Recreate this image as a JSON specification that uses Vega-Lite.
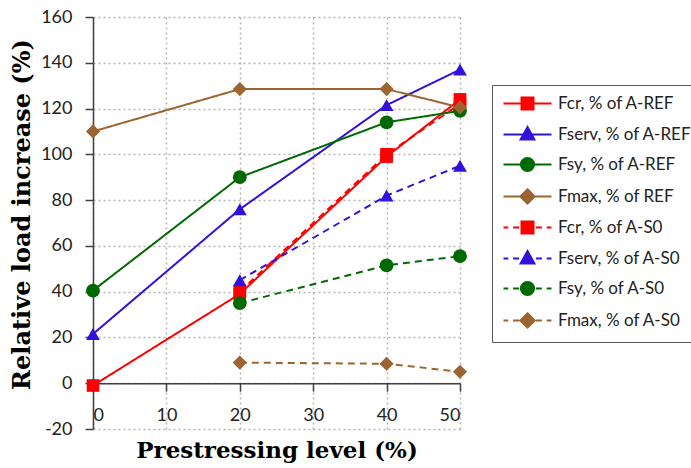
{
  "$schema": "https://vega.github.io/schema/vega-lite/v6.json",
  "autosize": "none",
  "width": 367,
  "height": 412,
  "padding": {"left": 93, "top": 17, "right": 231, "bottom": 39},
  "background": "white",
  "config": {
    "view": {"stroke": null},
    "axis": {
      "domainColor": "#404040",
      "domainWidth": 1.5,
      "tickColor": "#404040",
      "tickWidth": 1.5,
      "tickSize": 8,
      "gridColor": "#b4b4b4",
      "gridDash": [2, 3],
      "gridWidth": 1.5,
      "labelFont": "Lato",
      "labelFontSize": 18,
      "labelColor": "#222222",
      "labelExpr": "replace(datum.label, '\u2212', '-')",
      "titleFont": "DejaVu Serif",
      "titleFontWeight": "bold",
      "titleFontSize": 23,
      "titleColor": "#000000"
    },
    "legend": {
      "symbolSize": 144,
      "symbolStrokeWidth": 2,
      "symbolOpacity": 1,
      "labelFont": "Lato",
      "labelFontSize": 17,
      "labelColor": "#222222",
      "strokeColor": "#555555",
      "fillColor": "white",
      "padding": 10,
      "rowPadding": 9,
      "symbolOffset": 17,
      "labelOffset": 22
    }
  },
  "data": {
    "values": [
      {"x": 0, "y": -1, "s": "Fcr, % of A-REF"},
      {"x": 20, "y": 39, "s": "Fcr, % of A-REF"},
      {"x": 40, "y": 99, "s": "Fcr, % of A-REF"},
      {"x": 50, "y": 124, "s": "Fcr, % of A-REF"},
      {"x": 0, "y": 21.5, "s": "Fserv, % of A-REF"},
      {"x": 20, "y": 76, "s": "Fserv, % of A-REF"},
      {"x": 40, "y": 121.5, "s": "Fserv, % of A-REF"},
      {"x": 50, "y": 137, "s": "Fserv, % of A-REF"},
      {"x": 0, "y": 40.5, "s": "Fsy, % of A-REF"},
      {"x": 20, "y": 90, "s": "Fsy, % of A-REF"},
      {"x": 40, "y": 114, "s": "Fsy, % of A-REF"},
      {"x": 50, "y": 119, "s": "Fsy, % of A-REF"},
      {"x": 0, "y": 110, "s": "Fmax, % of REF"},
      {"x": 20, "y": 128.5, "s": "Fmax, % of REF"},
      {"x": 40, "y": 128.5, "s": "Fmax, % of REF"},
      {"x": 50, "y": 120.5, "s": "Fmax, % of REF"},
      {"x": 20, "y": 40, "s": "Fcr, % of A-S0"},
      {"x": 40, "y": 100, "s": "Fcr, % of A-S0"},
      {"x": 50, "y": 122, "s": "Fcr, % of A-S0"},
      {"x": 20, "y": 45, "s": "Fserv, % of A-S0"},
      {"x": 40, "y": 82, "s": "Fserv, % of A-S0"},
      {"x": 50, "y": 95, "s": "Fserv, % of A-S0"},
      {"x": 20, "y": 35, "s": "Fsy, % of A-S0"},
      {"x": 40, "y": 51.5, "s": "Fsy, % of A-S0"},
      {"x": 50, "y": 55.5, "s": "Fsy, % of A-S0"},
      {"x": 20, "y": 9, "s": "Fmax, % of A-S0"},
      {"x": 40, "y": 8.5, "s": "Fmax, % of A-S0"},
      {"x": 50, "y": 5, "s": "Fmax, % of A-S0"}
    ]
  },
  "encoding": {
    "x": {
      "field": "x", "type": "quantitative",
      "scale": {"domain": [0, 50], "nice": false, "zero": false},
      "axis": {
        "title": "Prestressing level (%)",
        "values": [0, 10, 20, 30, 40, 50],
        "offset": -45.8,
        "labelPadding": 15,
        "titlePadding": 15,
        "grid": true
      }
    },
    "y": {
      "field": "y", "type": "quantitative",
      "scale": {"domain": [-20, 160], "nice": false, "zero": false},
      "axis": {
        "title": "Relative load increase (%)",
        "values": [-20, 0, 20, 40, 60, 80, 100, 120, 140, 160],
        "labelPadding": 13,
        "titlePadding": 6,
        "titleFontSize": 24,
        "titleY": 197,
        "grid": true
      }
    }
  },
  "resolve": {"scale": {"color": "independent", "shape": "independent", "stroke": "independent", "strokeDash": "independent"}},
  "layer": [
    {
      "mark": {"type": "line", "strokeWidth": 2},
      "encoding": {
        "detail": {"field": "s"},
        "color": {
          "field": "s", "type": "nominal", "legend": null,
          "scale": {
            "domain": ["Fcr, % of A-REF", "Fserv, % of A-REF", "Fsy, % of A-REF", "Fmax, % of REF", "Fcr, % of A-S0", "Fserv, % of A-S0", "Fsy, % of A-S0", "Fmax, % of A-S0"],
            "range": ["#ff0000", "#3311dd", "#006a00", "#9c6430", "#ff0000", "#3311dd", "#006a00", "#9c6430"]
          }
        },
        "strokeDash": {
          "field": "s", "type": "nominal", "legend": null,
          "scale": {
            "domain": ["Fcr, % of A-REF", "Fserv, % of A-REF", "Fsy, % of A-REF", "Fmax, % of REF", "Fcr, % of A-S0", "Fserv, % of A-S0", "Fsy, % of A-S0", "Fmax, % of A-S0"],
            "range": [[1, 0], [1, 0], [1, 0], [1, 0], [7, 5], [7, 5], [7, 5], [7, 5]]
          }
        }
      }
    },
    {
      "transform": [{"filter": {"field": "s", "oneOf": ["Fcr, % of A-REF", "Fcr, % of A-S0"]}}],
      "mark": {"type": "point", "shape": "square", "filled": true, "opacity": 1, "size": 160},
      "encoding": {"color": {"field": "s", "type": "nominal", "legend": null,
        "scale": {"domain": ["Fcr, % of A-REF", "Fcr, % of A-S0"], "range": ["#ff0000", "#ff0000"]}}}
    },
    {
      "transform": [{"filter": {"field": "s", "oneOf": ["Fserv, % of A-REF", "Fserv, % of A-S0"]}}],
      "mark": {"type": "point", "shape": "triangle-up", "filled": true, "opacity": 1, "size": 190},
      "encoding": {"color": {"field": "s", "type": "nominal", "legend": null,
        "scale": {"domain": ["Fserv, % of A-REF", "Fserv, % of A-S0"], "range": ["#3311dd", "#3311dd"]}}}
    },
    {
      "transform": [{"filter": {"field": "s", "oneOf": ["Fsy, % of A-REF", "Fsy, % of A-S0"]}}],
      "mark": {"type": "point", "shape": "circle", "filled": true, "opacity": 1, "size": 190},
      "encoding": {"color": {"field": "s", "type": "nominal", "legend": null,
        "scale": {"domain": ["Fsy, % of A-REF", "Fsy, % of A-S0"], "range": ["#006a00", "#006a00"]}}}
    },
    {
      "transform": [{"filter": {"field": "s", "oneOf": ["Fmax, % of REF", "Fmax, % of A-S0"]}}],
      "mark": {"type": "point", "shape": "diamond", "filled": true, "opacity": 1, "size": 200},
      "encoding": {"color": {"field": "s", "type": "nominal", "legend": null,
        "scale": {"domain": ["Fmax, % of REF", "Fmax, % of A-S0"], "range": ["#9c6430", "#9c6430"]}}}
    },
    {
      "mark": {"type": "point", "filled": true, "strokeWidth": 2, "opacity": 0},
      "encoding": {
        "color": {
          "field": "s", "type": "nominal",
          "scale": {
            "domain": ["Fcr, % of A-REF", "Fserv, % of A-REF", "Fsy, % of A-REF", "Fmax, % of REF", "Fcr, % of A-S0", "Fserv, % of A-S0", "Fsy, % of A-S0", "Fmax, % of A-S0"],
            "range": ["#ff0000", "#3311dd", "#006a00", "#9c6430", "#ff0000", "#3311dd", "#006a00", "#9c6430"]
          },
          "legend": {"title": null, "orient": "none", "legendX": 399, "legendY": 68, "symbolOpacity": 1, "symbolSize": 144}
        },
        "stroke": {
          "field": "s", "type": "nominal",
          "scale": {
            "domain": ["Fcr, % of A-REF", "Fserv, % of A-REF", "Fsy, % of A-REF", "Fmax, % of REF", "Fcr, % of A-S0", "Fserv, % of A-S0", "Fsy, % of A-S0", "Fmax, % of A-S0"],
            "range": ["#ff0000", "#3311dd", "#006a00", "#9c6430", "#ff0000", "#3311dd", "#006a00", "#9c6430"]
          },
          "legend": {"title": null, "orient": "none", "legendX": 399, "legendY": 68, "symbolOpacity": 1, "symbolSize": 144}
        },
        "shape": {
          "field": "s", "type": "nominal",
          "scale": {
            "domain": ["Fcr, % of A-REF", "Fserv, % of A-REF", "Fsy, % of A-REF", "Fmax, % of REF", "Fcr, % of A-S0", "Fserv, % of A-S0", "Fsy, % of A-S0", "Fmax, % of A-S0"],
            "range": [
              "M-4,0H4M-1,-1H1V1H-1Z",
              "M-4,0H4M0,-1.25L1.15,0.85H-1.15Z",
              "M-4,0H4M-1.1,0A1.1,1.1,0,1,0,1.1,0A1.1,1.1,0,1,0,-1.1,0Z",
              "M-4,0H4M0,-1.2L1.2,0L0,1.2L-1.2,0Z",
              "M-4,0H-3.2M-2.4,0H-1.4M1.4,0H2.4M3.2,0H4M-1,-1H1V1H-1Z",
              "M-4,0H-3.2M-2.4,0H-1.4M1.4,0H2.4M3.2,0H4M0,-1.25L1.15,0.85H-1.15Z",
              "M-4,0H-3.2M-2.4,0H-1.4M1.4,0H2.4M3.2,0H4M-1.1,0A1.1,1.1,0,1,0,1.1,0A1.1,1.1,0,1,0,-1.1,0Z",
              "M-4,0H-3.2M-2.4,0H-1.4M1.4,0H2.4M3.2,0H4M0,-1.2L1.2,0L0,1.2L-1.2,0Z"
            ]
          },
          "legend": {"title": null, "orient": "none", "legendX": 399, "legendY": 68, "symbolOpacity": 1, "symbolSize": 144}
        }
      }
    }
  ]
}
